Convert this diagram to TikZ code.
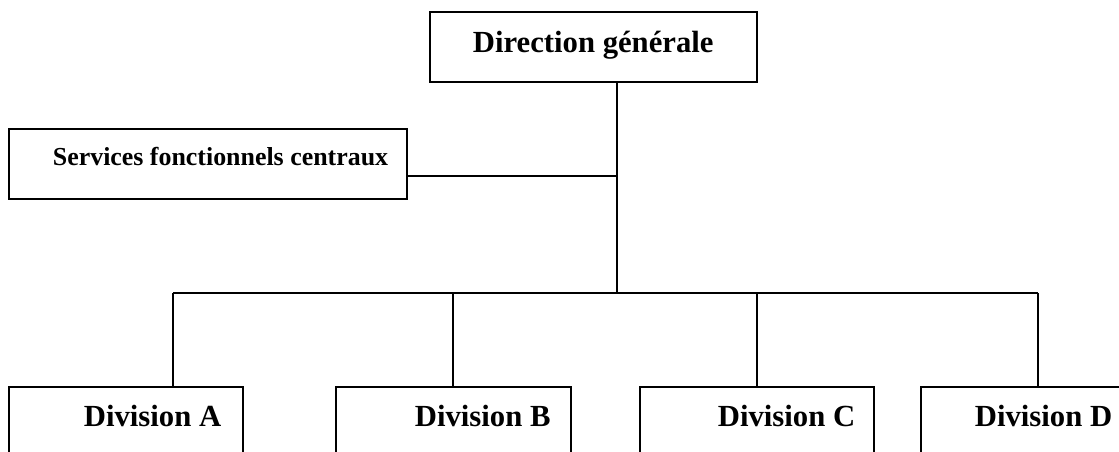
\documentclass[tikz,border=0pt]{standalone}
\usepackage{fontspec}
\setmainfont{Liberation Serif}
\begin{document}
\begin{tikzpicture}[x=1pt,y=-1pt, line width=1.8pt,
  box/.style={draw, inner sep=0pt, outer sep=0pt, anchor=north west},
  big/.style={font=\fontsize{30.7}{36}\selectfont\bfseries, inner sep=0pt, anchor=base west},
  small/.style={font=\fontsize{25.9}{30}\selectfont\bfseries, inner sep=0pt, anchor=base west}]
\useasboundingbox (0,0) rectangle (1119,451);
\clip (0,0) rectangle (1119,451);
% boxes
\node[box, minimum width=327pt, minimum height=70pt] (dg) at (430,12) {};
\node[box, minimum width=398pt, minimum height=70pt] (sfc) at (9,129) {};
\node[box, minimum width=234pt, minimum height=100pt] (dA) at (9,387) {};
\node[box, minimum width=235pt, minimum height=100pt] (dB) at (336,387) {};
\node[box, minimum width=234pt, minimum height=100pt] (dC) at (640,387) {};
\node[box, minimum width=234pt, minimum height=100pt] (dD) at (921,387) {};
% texts
\node[big] (tdg) at (472,52) {Direction générale};
\node[small] (tsfc) at (52,165) {Services fonctionnels centraux};
\node[big] (tA) at (83,426) {Division A};
\node[big] (tB) at (414,426) {Division B};
\node[big] (tC) at (717,426) {Division C};
\node[big] (tD) at (974,426) {Division D};
% junctions
\coordinate (trunk) at (617,293);
\coordinate (jS) at (617,176);
\coordinate (jA) at (173,293);
\coordinate (jB) at (453,293);
\coordinate (jC) at (757,293);
\coordinate (jD) at (1038,293);
% connectors
\draw (trunk |- dg.south) -- (trunk);
\draw (jS) -- (jS -| sfc.east);
\draw (jA) -- (jD);
\draw (jA) -- (jA |- dA.north);
\draw (jB) -- (jB |- dB.north);
\draw (jC) -- (jC |- dC.north);
\draw (jD) -- (jD |- dD.north);
\end{tikzpicture}
\end{document}
